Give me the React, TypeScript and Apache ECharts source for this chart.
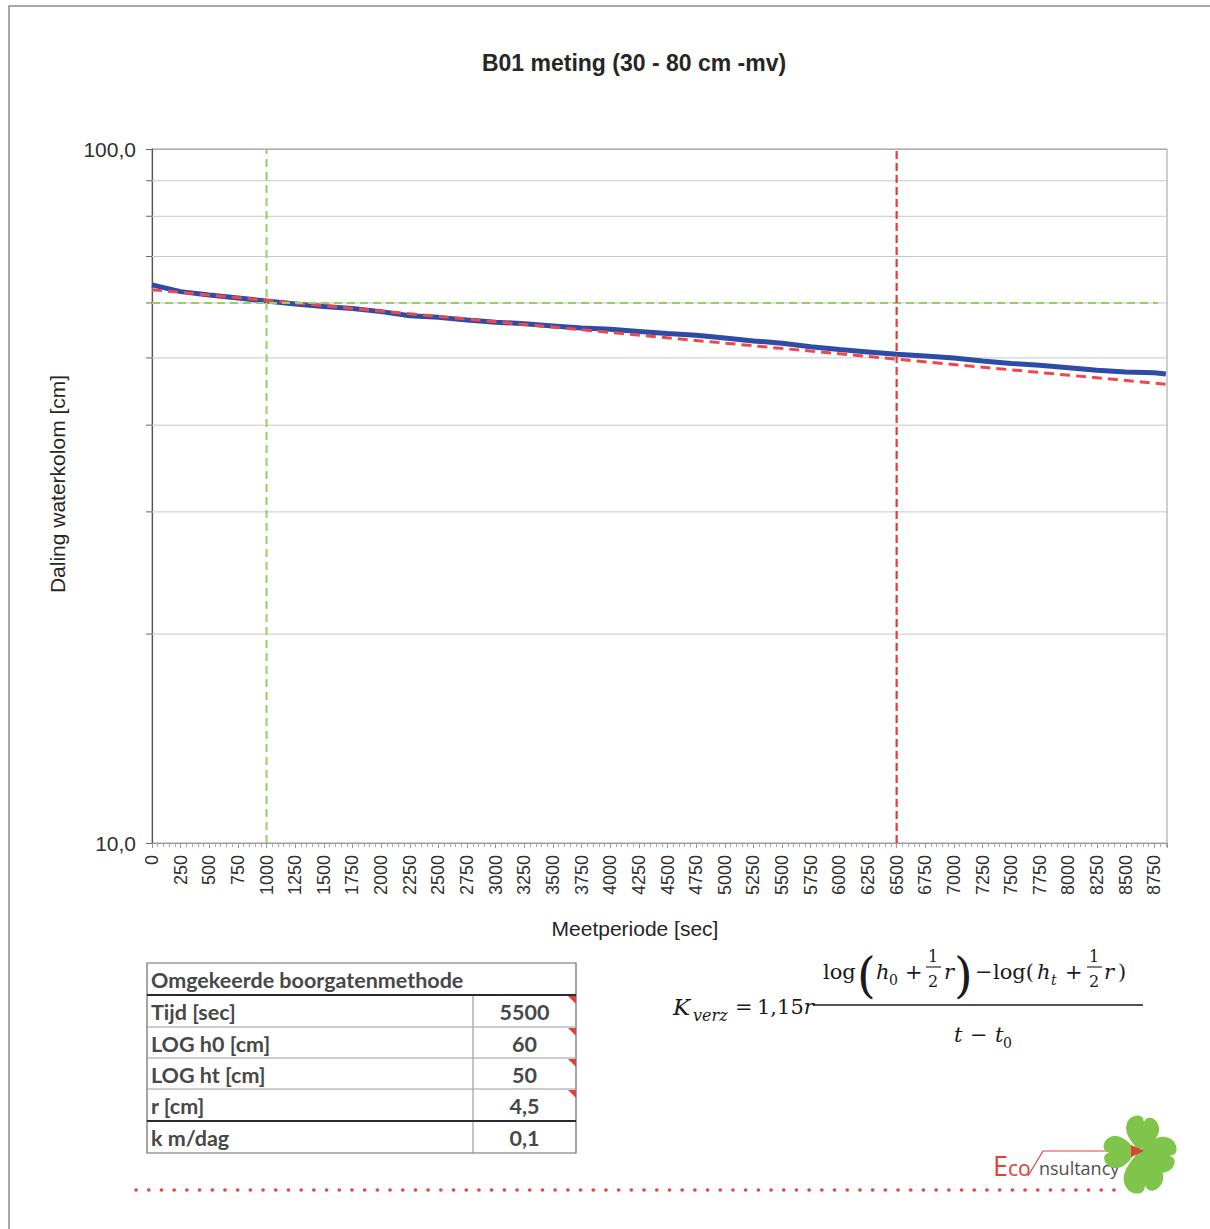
import React, { useEffect, useRef } from "react";
import * as echarts from "echarts";

// ---- data ----
const timeSec = [0, 250, 500, 750, 1000, 1250, 1500, 1750, 2000, 2250, 2500, 2750, 3000, 3250, 3500, 3750, 4000, 4250, 4500, 4750, 5000, 5250, 5500, 5750, 6000, 6250, 6500, 6750, 7000, 7250, 7500, 7750, 8000, 8250, 8500, 8750, 8850];
const measured = [63.7, 62.3, 61.6, 61.0, 60.4, 59.8, 59.3, 58.9, 58.3, 57.5, 57.2, 56.7, 56.3, 56.0, 55.6, 55.2, 55.0, 54.6, 54.2, 53.9, 53.4, 52.9, 52.5, 51.9, 51.4, 51.0, 50.6, 50.3, 50.0, 49.5, 49.1, 48.8, 48.4, 48.0, 47.7, 47.6, 47.4];
const trendTime = [0, 8860];
const trendValue = [62.7, 45.8];
const t0Line = [[1000, 10], [1000, 100]];
const tLine = [[6500, 10], [6500, 100]];
const h0Line = [[0, 60], [8780, 60]];
const gridValues = [20, 30, 40, 50, 60, 70, 80, 90];
const xMin = 0;
const xMax = 8860;
const xInterval = 250;

const titleText = "B01 meting (30 - 80 cm -mv)";
const yName = "Daling waterkolom [cm]";
const xName = "Meetperiode [sec]";
const tableTitle = "Omgekeerde boorgatenmethode";
const tableLabels = ["Tijd [sec]", "LOG h0 [cm]", "LOG ht [cm]", "r [cm]", "k m/dag"];
const tableValues = ["5500", "60", "50", "4,5", "0,1"];
const tableComment = [true, true, true, true, false];

const heartD =
  "M0,0 C-4,-6 -18,-13 -18,-25 C-18,-33 -12,-38 -6,-38 C-3,-38 -1,-36 0,-32 C1,-36 3,-38 6,-38 C12,-38 18,-33 18,-25 C18,-13 4,-6 0,0 Z";
echarts.graphic.registerShape("heartLeaf", echarts.graphic.extendPath(heartD, {}));

const SERIF = '"DejaVu Serif", "Liberation Serif", serif';
const SANS = '"Liberation Sans", Arial, sans-serif';
const TBL = 'Lato, "Open Sans", sans-serif';
const LOGO = '"Open Sans", sans-serif';

function mt(text: string, x: number, y: number, size: number, italic = false, extra: any = {}) {
  return {
    type: "text",
    x,
    y,
    silent: true,
    style: {
      text,
      fontFamily: SERIF,
      fontSize: size,
      fontStyle: italic ? "italic" : "normal",
      fill: "#1a1a1a",
      align: "left",
      verticalAlign: "middle",
      ...extra,
    },
  };
}
function ln(x1: number, y1: number, x2: number, y2: number, stroke: string, lw: number) {
  return { type: "line", silent: true, shape: { x1, y1, x2, y2 }, style: { stroke, lineWidth: lw } };
}

function buildGraphic() {
  const g: any[] = [];
  // outer frame
  g.push({ type: "rect", silent: true, shape: { x: 9, y: 6, width: 1230, height: 1250 }, style: { fill: "none", stroke: "#8c8c8c", lineWidth: 1.5 } });
  // title and axis names
  g.push({ type: "text", x: 634, y: 63, silent: true, style: { text: titleText, fontFamily: SANS, fontSize: 23, fontWeight: "bold", fill: "#262626", align: "center", verticalAlign: "middle" } });
  g.push({ type: "text", x: 57, y: 484, rotation: Math.PI / 2, silent: true, style: { text: yName, fontFamily: SANS, fontSize: 21, fill: "#262626", align: "center", verticalAlign: "middle" } });
  g.push({ type: "text", x: 635, y: 928, silent: true, style: { text: xName, fontFamily: SANS, fontSize: 21, fill: "#262626", align: "center", verticalAlign: "middle" } });

  // table
  const L = 147, R = 576, C = 473;
  const rowY = [963, 995, 1027, 1058, 1089, 1121, 1153];
  g.push({ type: "rect", silent: true, shape: { x: L, y: rowY[0], width: R - L, height: rowY[6] - rowY[0] }, style: { fill: "#fff", stroke: "#6a6a6a", lineWidth: 1.2 } });
  g.push(ln(C, rowY[1], C, rowY[6], "#8a8a8a", 1));
  for (let i = 1; i < 6; i++) {
    const dark = i === 1 || i === 5;
    g.push(ln(L, rowY[i], R, rowY[i], dark ? "#2a2a2a" : "#9a9a9a", dark ? 2 : 1));
  }
  const tfs = 21.5;
  g.push({ type: "text", x: 151, y: (rowY[0] + rowY[1]) / 2 + 1, silent: true, style: { text: tableTitle, fontFamily: TBL, fontSize: tfs, fontWeight: "bold", fill: "#484848", align: "left", verticalAlign: "middle" } });
  tableLabels.forEach((lab, i) => {
    const yc = (rowY[i + 1] + rowY[i + 2]) / 2 + 1;
    g.push({ type: "text", x: 151, y: yc, silent: true, style: { text: lab, fontFamily: TBL, fontSize: tfs, fontWeight: "bold", fill: "#484848", align: "left", verticalAlign: "middle" } });
    g.push({ type: "text", x: (C + R) / 2, y: yc, silent: true, style: { text: tableValues[i], fontFamily: TBL, fontSize: tfs, fontWeight: "bold", fill: "#484848", align: "center", verticalAlign: "middle" } });
    if (tableComment[i]) {
      const top = rowY[i + 1];
      g.push({ type: "polygon", silent: true, shape: { points: [[R - 8, top + 1], [R, top + 1], [R, top + 9]] }, style: { fill: "#e0403a" } });
    }
  });

  // formula
  g.push(mt("K", 673, 1007, 23, true));
  g.push(mt("verz", 693, 1015, 16, true));
  g.push(mt("=", 735, 1007, 21));
  g.push({
    type: "text",
    x: 757,
    y: 1007,
    silent: true,
    style: {
      text: "{n|1,15}{i|r}",
      align: "left",
      verticalAlign: "middle",
      fill: "#1a1a1a",
      fontFamily: SERIF,
      fontSize: 21,
      rich: {
        n: { fontFamily: SERIF, fontSize: 21, fill: "#1a1a1a" },
        i: { fontFamily: SERIF, fontSize: 21, fontStyle: "italic", fill: "#1a1a1a" },
      },
    },
  });
  g.push(ln(813, 1005, 1143, 1005, "#1a1a1a", 1.3));
  // numerator
  g.push(mt("log", 823, 972, 21));
  g.push(mt("(", 857, 975, 48, false, { fontWeight: "lighter" }));
  g.push(mt("h", 876, 972, 21, true));
  g.push(mt("0", 889, 980, 14));
  g.push(mt("+", 905, 972, 21));
  g.push(mt("1", 928, 956, 16));
  g.push(ln(926, 967, 941, 967, "#1a1a1a", 1.1));
  g.push(mt("2", 928, 981, 16));
  g.push(mt("r", 944, 972, 21, true));
  g.push(mt(")", 954, 975, 48, false, { fontWeight: "lighter" }));
  g.push(mt("\u2212", 975, 972, 21));
  g.push(mt("log(", 993, 972, 21));
  g.push(mt("h", 1037, 972, 21, true));
  g.push(mt("t", 1051, 980, 14, true));
  g.push(mt("+", 1065, 972, 21));
  g.push(mt("1", 1089, 956, 16));
  g.push(ln(1087, 967, 1102, 967, "#1a1a1a", 1.1));
  g.push(mt("2", 1089, 981, 16));
  g.push(mt("r", 1104, 972, 21, true));
  g.push(mt(")", 1118, 972, 21));
  // denominator
  g.push(mt("t", 954, 1035, 21, true));
  g.push(mt("\u2212", 970, 1035, 21));
  g.push(mt("t", 995, 1035, 21, true));
  g.push(mt("0", 1003, 1043, 14));

  // dotted line
  g.push({ type: "line", silent: true, shape: { x1: 136, y1: 1190, x2: 1114, y2: 1190 }, style: { stroke: "#e8453c", lineWidth: 3.6, lineDash: [0.1, 12.6], lineCap: "round" } });

  // logo
  g.push({ type: "text", x: 993, y: 1165, silent: true, style: { text: "E", fontFamily: LOGO, fontSize: 27, fill: "#e0403a", align: "left", verticalAlign: "middle" } });
  g.push({ type: "text", x: 1008, y: 1168, silent: true, style: { text: "co", fontFamily: LOGO, fontSize: 21, fill: "#e0403a", align: "left", verticalAlign: "middle" } });
  g.push({ type: "polyline", silent: true, shape: { points: [[1028, 1176], [1043, 1151], [1132, 1151]] }, style: { stroke: "#e0403a", lineWidth: 1.2, fill: "none" } });
  g.push({ type: "text", x: 1039, y: 1168, silent: true, style: { text: "nsultancy", fontFamily: LOGO, fontSize: 18, fill: "#505050", align: "left", verticalAlign: "middle" } });
  const cx = 1138, cy = 1151;
  const leaves = [
    { r: -0.2, s: 0.92 },
    { r: Math.PI / 2 + 0.05, s: 0.9 },
    { r: -Math.PI / 2 - 0.15, s: 1.0 },
    { r: Math.PI + 0.2, s: 1.1 },
  ];
  leaves.forEach((lf) => {
    g.push({ type: "heartLeaf", x: cx, y: cy, rotation: lf.r, scaleX: lf.s, scaleY: lf.s, silent: true, style: { fill: "#80c54b" } });
  });
  g.push({ type: "polygon", silent: true, shape: { points: [[1131, 1145], [1144, 1151], [1131, 1157]] }, style: { fill: "#e0403a" } });
  return g;
}

export default function App() {
  const ref = useRef<HTMLDivElement>(null);
  useEffect(() => {
    if (!ref.current) return;
    const chart = echarts.init(ref.current, undefined, { renderer: "svg" });
    const option: any = {
      animation: false,
      backgroundColor: "#ffffff",
      grid: { left: 152, right: 43, top: 149, bottom: 386, show: true, borderColor: "#9c9c9c", borderWidth: 1 },
      xAxis: {
        type: "value",
        min: xMin,
        max: xMax,
        interval: xInterval,
        axisLine: { show: true, lineStyle: { color: "#9a9a9a", width: 1 } },
        axisTick: { show: true, length: 5, lineStyle: { color: "#9a9a9a" } },
        minorTick: { show: true, splitNumber: 5, length: 4, lineStyle: { color: "#a8a8a8" } },
        splitLine: { show: false },
        axisLabel: {
          rotate: 90,
          fontSize: 18,
          fontFamily: SANS,
          color: "#303030",
          margin: 12,
          showMaxLabel: false,
          formatter: (v: number) => String(v),
        },
      },
      yAxis: {
        type: "log",
        logBase: 10,
        min: 10,
        max: 100,
        axisLine: { show: true, lineStyle: { color: "#555", width: 1.2 } },
        axisTick: { show: true, length: 6, lineStyle: { color: "#666" } },
        splitLine: { show: true, lineStyle: { color: "#a9adb6" } },
        axisLabel: {
          fontSize: 21,
          fontFamily: SANS,
          color: "#303030",
          margin: 16,
          formatter: (v: number) => v.toFixed(1).replace(".", ","),
        },
      },
      graphic: buildGraphic(),
      series: [
        {
          type: "custom",
          silent: true,
          z: 1,
          data: gridValues.map((v) => [xMin, v]),
          encode: { x: 0, y: 1 },
          renderItem: (params: any, api: any) => {
            const v = api.value(1);
            const p0 = api.coord([xMin, v]);
            const p1 = api.coord([xMax, v]);
            return {
              type: "group",
              children: [
                { type: "line", shape: { x1: p0[0], y1: p0[1], x2: p1[0], y2: p1[1] }, style: { stroke: "#c4c8d1", lineWidth: 1 } },
                { type: "line", shape: { x1: p0[0] - 6, y1: p0[1], x2: p0[0], y2: p0[1] }, style: { stroke: "#666", lineWidth: 1 } },
              ],
            };
          },
        },
        {
          type: "line",
          z: 3,
          symbol: "none",
          silent: true,
          data: timeSec.map((t, i) => [t, measured[i]]),
          lineStyle: { color: "#2d4ca5", width: 5 },
        },
        {
          type: "line",
          z: 4,
          symbol: "none",
          silent: true,
          data: trendTime.map((t, i) => [t, trendValue[i]]),
          lineStyle: { color: "#f0474c", width: 3, type: [10, 6] },
        },
        {
          type: "line",
          z: 5,
          symbol: "none",
          silent: true,
          data: h0Line,
          lineStyle: { color: "#95d15a", width: 2, type: [8, 5] },
        },
        {
          type: "line",
          z: 5,
          symbol: "none",
          silent: true,
          data: t0Line,
          lineStyle: { color: "#95d15a", width: 2, type: [8, 5] },
        },
        {
          type: "line",
          z: 5,
          symbol: "none",
          silent: true,
          data: tLine,
          lineStyle: { color: "#e63b3b", width: 2.2, type: [8, 4] },
        },
      ],
    };
    chart.setOption(option);
    return () => chart.dispose();
  }, []);
  return (
    <div
      ref={ref}
      style={{ position: "fixed", left: 0, top: 0, width: 1210, height: 1229, background: "#fff" }}
    />
  );
}
